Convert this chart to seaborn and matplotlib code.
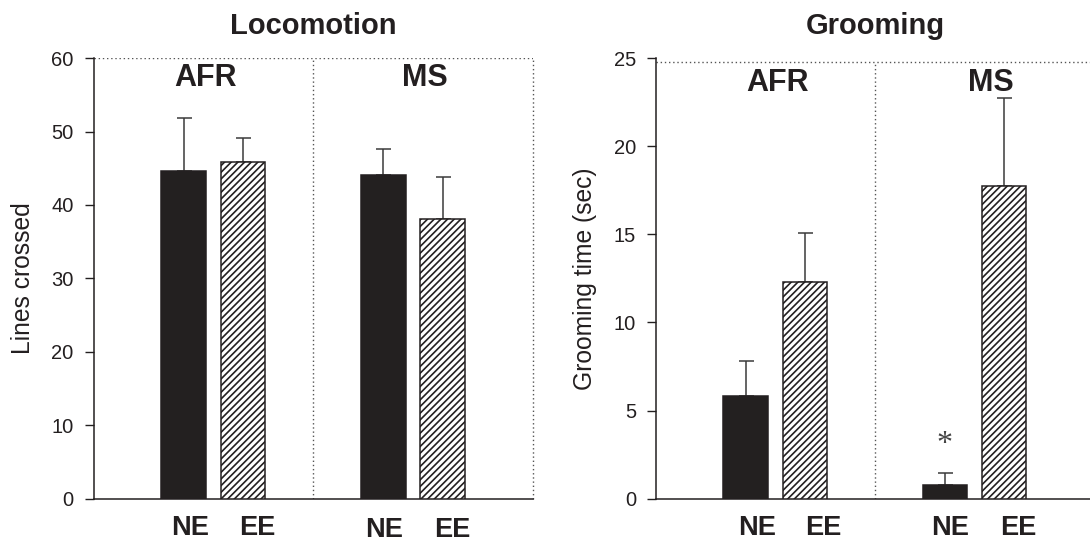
import matplotlib
matplotlib.use("Agg")
import matplotlib.pyplot as plt
import matplotlib.transforms as mtransforms
import pandas as pd
import seaborn as sns

# Data (means and upper SEM)
groups = ["AFR", "MS"]
conditions = ["NE", "EE"]
loco_mean = {"NE": [44.6, 44.1], "EE": [45.8, 38.1]}
loco_sem = {"NE": [7.2, 3.5], "EE": [3.3, 5.7]}
groom_mean = {"NE": [5.8, 0.75], "EE": [12.3, 17.75]}
groom_sem = {"NE": [2.0, 0.68], "EE": [2.8, 5.0]}

INK = "#231f20"

sns.set_style("white")
plt.rcParams["font.family"] = ["Liberation Sans", "DejaVu Sans"]
plt.rcParams["hatch.linewidth"] = 1.2
plt.rcParams["hatch.color"] = INK


def make_df(means):
    rows = []
    for c in conditions:
        for g, v in zip(groups, means[c]):
            rows.append({"group": g, "condition": c, "value": v})
    return pd.DataFrame(rows)


def draw_panel(ax, means, sems, ymax, yticks, ylabel, title, xmax,
               top_line, group_lab_y, group_lab_dx, tick_lab_y, tick_lab_dx,
               right_spine=True):
    df = make_df(means)
    sns.barplot(data=df, x="group", y="value", hue="condition",
                order=groups, hue_order=conditions,
                palette={"NE": INK, "EE": "white"}, edgecolor=INK,
                linewidth=1.1, width=0.594, gap=0.246, errorbar=None,
                legend=False, ax=ax, zorder=3)

    blend = mtransforms.blended_transform_factory(ax.transData, ax.transAxes)

    # hatch the EE bars, add upper-only error bars, NE/EE labels
    for cond, cont in zip(conditions, ax.containers):
        xs = []
        for bar in cont:
            if cond == "EE":
                bar.set_hatch("/////")
            xs.append(bar.get_x() + bar.get_width() / 2)
        ax.errorbar(xs, means[cond], yerr=[[0] * len(xs), sems[cond]],
                    fmt="none", ecolor="#3a3a3a", elinewidth=1.1,
                    capsize=5.4, capthick=1.1, zorder=2)
        for i, x in enumerate(xs):
            ax.text(x + tick_lab_dx[cond][i], tick_lab_y[i], cond,
                    transform=blend, ha="center", va="top",
                    fontsize=19.5, fontweight="bold", color=INK, clip_on=False)

    for i, g in enumerate(groups):
        ax.text(i + group_lab_dx[i], group_lab_y, g, transform=blend,
                ha="center", va="center", fontsize=22, fontweight="bold",
                color=INK)

    ax.text(0.5, 1.073, title, transform=blend, ha="center", va="center",
            fontsize=21, fontweight="bold", color=INK)

    ax.set_xlim(-0.6, xmax)
    ax.set_ylim(0, ymax)
    ax.set_yticks(yticks)
    ax.set_xticks([])
    ax.set_xlabel("")
    ax.set_ylabel(ylabel, fontsize=17.7, color=INK)
    ax.tick_params(axis="y", direction="out", length=6.8, width=1.0,
                   pad=7.5, labelsize=14.5, colors=INK, left=True)

    for s in ["left", "bottom"]:
        ax.spines[s].set_color(INK)
        ax.spines[s].set_linewidth(1.1)
    ax.spines["top"].set_visible(False)
    ax.spines["right"].set_visible(False)

    dot = dict(color="#555555", lw=1.0, ls=(0, (1, 2)))
    ax.axhline(top_line, **dot, zorder=1)
    ax.axvline(0.5, ymax=top_line / ymax, **dot, zorder=1)
    if right_spine:
        ax.axvline(xmax, ymax=top_line / ymax, **dot, zorder=1, clip_on=False)


fig = plt.figure(figsize=(10.9, 5.43), dpi=100)
ax1 = fig.add_axes([93.5 / 1090, 44.4 / 543, 439.5 / 1090, 440.4 / 543])
ax2 = fig.add_axes([655.8 / 1090, 44.4 / 543, 434.2 / 1090, 440.4 / 543])

draw_panel(ax1, loco_mean, loco_sem, 60, range(0, 61, 10), "Lines crossed",
           "Locomotion", 1.6, 60, 0.955, [-0.04, 0.06],
           [-0.038, -0.042], {"NE": [0.03, 0.005], "EE": [0.07, 0.045]})
draw_panel(ax2, groom_mean, groom_sem, 25, range(0, 26, 5),
           "Grooming time (sec)", "Grooming", 1.58, 24.8, 0.943, [0.01, 0.08],
           [-0.038, -0.038], {"NE": [0.055, 0.025], "EE": [0.09, 0.07]},
           right_spine=False)
ax1.yaxis.set_label_coords(-0.133, 0.5)
ax2.yaxis.set_label_coords(-0.135, 0.5)

# significance marker
ms_ne = ax2.containers[0][1]
ax2.text(ms_ne.get_x() + ms_ne.get_width() / 2, 3.05, "*", ha="center",
         va="center", fontsize=23, family=["Liberation Serif", "DejaVu Serif"],
         color="#444444")

fig.savefig("out.png", dpi=100)
plt.close(fig)
